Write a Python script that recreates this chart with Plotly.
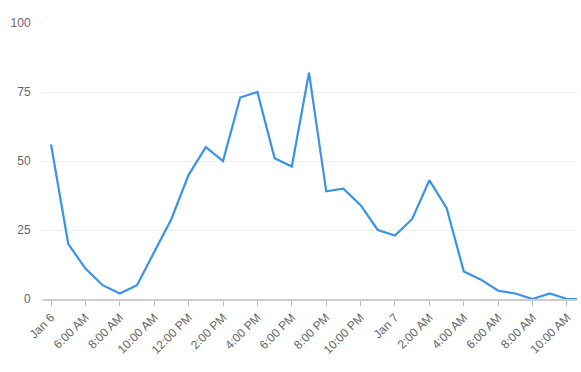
import plotly.graph_objects as go
import pandas as pd

times = pd.date_range("2024-01-06 04:00", "2024-01-07 11:00", freq="h")
values = [56, 20, 11, 5, 2, 5, 17, 29, 45, 55, 50, 73, 75, 51, 48, 82,
          39, 40, 34, 25, 23, 29, 43, 33, 10, 7, 3, 2, 0, 2, 0, 0]

tick_times = ["2024-01-06 04:00", "2024-01-06 06:00", "2024-01-06 08:00", "2024-01-06 10:00",
              "2024-01-06 12:00", "2024-01-06 14:00", "2024-01-06 16:00", "2024-01-06 18:00",
              "2024-01-06 20:00", "2024-01-06 22:00", "2024-01-07 00:00", "2024-01-07 02:00",
              "2024-01-07 04:00", "2024-01-07 06:00", "2024-01-07 08:00", "2024-01-07 10:00"]
tick_labels = ["Jan 6", "6:00 AM", "8:00 AM", "10:00 AM", "12:00 PM", "2:00 PM", "4:00 PM",
               "6:00 PM", "8:00 PM", "10:00 PM", "Jan 7", "2:00 AM", "4:00 AM", "6:00 AM",
               "8:00 AM", "10:00 AM"]
y_ticks = [0, 25, 50, 75, 100]

fig = go.Figure(go.Scatter(
    x=times, y=values, mode="lines",
    line=dict(color="#3a93e6", width=2.2),
    hoverinfo="skip",
))

fig.update_layout(
    width=581, height=372,
    margin=dict(l=43, r=4, t=23, b=73),
    paper_bgcolor="white", plot_bgcolor="white",
    showlegend=False,
    font=dict(family="Liberation Sans, Arial, sans-serif", size=12, color="#666666"),
    xaxis=dict(
        range=["2024-01-06 03:32", "2024-01-07 10:35"],
        tickvals=tick_times, ticktext=tick_labels,
        tickangle=-45,
        showgrid=False, zeroline=False,
        showline=True, linecolor="#cccccc", linewidth=1.5,
        ticks="outside", ticklen=5, tickcolor="#bbbbbb", tickwidth=1,
        tickfont=dict(size=12, color="#666666"),
    ),
    yaxis=dict(
        range=[0, 100],
        tickvals=y_ticks,
        showgrid=True, gridcolor="#eeeeee", gridwidth=1,
        zeroline=False, showline=False,
        ticks="outside", ticklen=3, tickcolor="#eeeeee",
        tickfont=dict(size=12, color="#666666"),
        ticklabelstandoff=6,
    ),
)

fig.write_html("out.html")
